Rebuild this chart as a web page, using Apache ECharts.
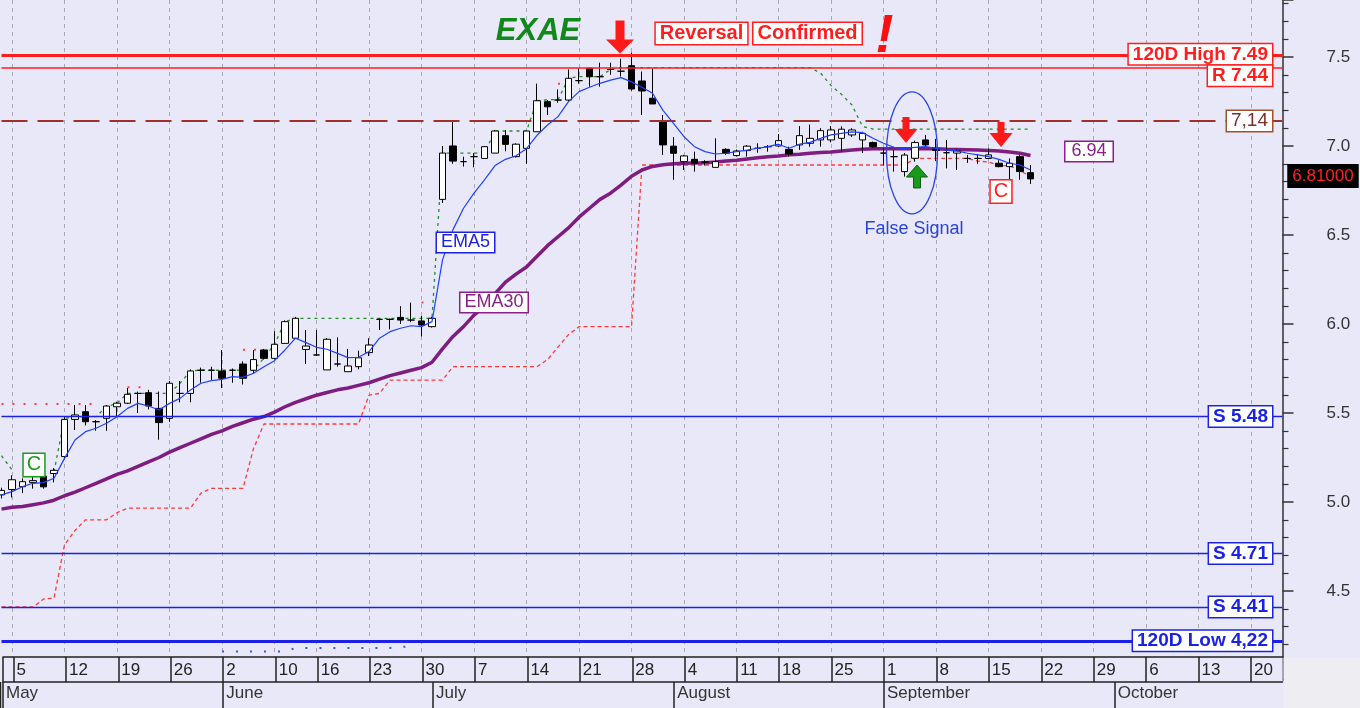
<!DOCTYPE html>
<html><head><meta charset="utf-8">
<script src="https://cdn.jsdelivr.net/npm/echarts@6/dist/echarts.min.js"></script>
<style>html,body{margin:0;padding:0;background:#E8E8F8;overflow:hidden}#c{width:1360px;height:708px}</style>
</head><body><div id="c"></div>
<script>
// ---- categories: trading days (May 2 .. Oct 23, 2025) ----
const dates = ['05-02',
 '05-05','05-06','05-07','05-08','05-09','05-12','05-13','05-14','05-15','05-16',
 '05-19','05-20','05-21','05-22','05-23','05-26','05-27','05-28','05-29','05-30',
 '06-02','06-03','06-04','06-05','06-06','06-10','06-11','06-12','06-13',
 '06-16','06-17','06-18','06-19','06-20','06-23','06-24','06-25','06-26','06-27','06-30',
 '07-01','07-02','07-03','07-04','07-07','07-08','07-09','07-10','07-11',
 '07-14','07-15','07-16','07-17','07-18','07-21','07-22','07-23','07-24','07-25',
 '07-28','07-29','07-30','07-31','08-01',
 '08-04','08-05','08-06','08-07','08-08','08-11','08-12','08-13','08-14',
 '08-18','08-19','08-20','08-21','08-22','08-25','08-26','08-27','08-28','08-29',
 '09-01','09-02','09-03','09-04','09-05','09-08','09-09','09-10','09-11','09-12',
 '09-15','09-16','09-17','09-18','09-19','09-22','09-23','09-24','09-25','09-26',
 '09-29','09-30','10-01','10-02','10-03','10-06','10-07','10-08','10-09','10-10',
 '10-13','10-14','10-15','10-16','10-17','10-20','10-21','10-22','10-23'];
const weekTicks = ['05-05','05-12','05-19','05-26','06-02','06-10','06-16','06-23','06-30',
 '07-07','07-14','07-21','07-28','08-04','08-11','08-18','08-25','09-01','09-08','09-15',
 '09-22','09-29','10-06','10-13','10-20'];
const monthStarts = ['05-02','06-02','07-01','08-01','09-01','10-01'];
const monthNames = ['May','June','July','August','September','October'];
const yTickLabels = ['4.5','5.0','5.5','6.0','6.5','7.0','7.5'];

// ---- candles (May 2 .. Sep 19) ----
const opens = [5.04,5.07,5.086,5.11,5.145,5.16,5.255,5.464,5.507,5.451,5.47,5.535,5.555,5.61,5.614,5.526,5.47,5.61,5.61,5.74,5.74,
 5.736,5.74,5.775,5.74,5.854,5.807,5.891,5.92,5.857,5.826,5.742,5.775,5.732,5.76,5.839,6.026,6.026,6.037,6.022,6.017,
 5.985,6.70,7.0,6.912,6.94,6.93,6.96,7.058,6.94,6.987,7.08,7.249,7.258,7.258,7.367,7.436,7.389,7.43,7.42,7.451,7.365,7.268,7.142,
 6.999,6.912,6.925,6.91,6.88,6.981,6.946,6.974,6.987,6.996,7.0,6.981,7.006,7.015,7.034,7.034,7.043,7.062,7.034,7.019,
 6.96,6.94,6.856,6.931,7.034,6.985,6.962,6.96,6.93,6.93,6.93,6.903,6.884,6.94,6.85];
const closes = [5.065,5.125,5.114,5.12,5.085,5.178,5.464,5.489,5.451,5.451,5.539,5.555,5.605,5.61,5.539,5.446,5.667,5.61,5.736,5.74,5.74,
 5.695,5.74,5.695,5.80,5.807,5.886,6.013,6.032,5.876,5.826,5.914,5.775,5.764,5.81,5.882,6.026,6.026,6.022,6.022,5.994,
 6.032,6.96,6.915,6.912,6.94,6.996,7.084,7.009,7.01,7.084,7.254,7.22,7.258,7.38,7.367,7.389,7.389,7.43,7.42,7.32,7.309,7.236,7.006,
 6.959,6.944,6.903,6.91,6.912,6.959,6.972,6.999,6.987,6.996,7.03,6.955,7.058,7.043,7.086,7.09,7.094,7.09,7.071,6.996,
 6.96,6.94,6.949,7.019,7.006,6.975,6.962,6.972,6.93,6.93,6.95,6.884,6.903,6.856,6.815];
const lows = [5.02,5.025,5.05,5.075,5.075,5.11,5.24,5.404,5.43,5.40,5.40,5.48,5.55,5.50,5.52,5.35,5.45,5.56,5.56,5.67,5.68,
 5.64,5.67,5.66,5.72,5.80,5.80,5.891,5.92,5.775,5.82,5.742,5.76,5.732,5.745,5.82,5.966,5.97,6.00,6.01,5.93,
 5.98,6.68,6.90,6.884,6.88,6.93,6.96,6.97,6.935,6.90,7.08,7.174,7.243,7.25,7.35,7.333,7.333,7.40,7.39,7.31,7.174,7.236,6.95,
 6.81,6.865,6.856,6.89,6.88,6.95,6.94,6.94,6.962,6.968,6.996,6.94,6.978,6.996,6.996,7.02,6.968,7.05,6.96,6.99,
 6.89,6.856,6.828,6.912,7.0,6.915,6.874,6.865,6.905,6.90,6.925,6.88,6.772,6.81,6.787];
const highs = [5.08,5.15,5.133,5.146,5.16,5.19,5.48,5.545,5.545,5.46,5.545,5.563,5.64,5.62,5.63,5.62,5.68,5.68,5.745,5.755,5.76,
 5.854,5.75,5.79,5.854,5.86,5.96,6.02,6.04,5.966,5.966,5.92,5.925,5.86,5.85,5.92,6.03,6.03,6.10,6.12,6.045,
 6.04,7.0,7.146,6.94,6.96,7.0,7.09,7.09,7.015,7.085,7.35,7.258,7.318,7.43,7.436,7.44,7.468,7.468,7.49,7.525,7.418,7.436,7.174,
 7.05,6.95,6.968,6.92,7.043,6.987,6.98,7.005,7.015,7.005,7.067,6.996,7.112,7.12,7.10,7.112,7.11,7.10,7.08,7.025,
 6.987,6.977,6.96,7.03,7.062,7.04,7.034,6.98,6.95,6.953,6.987,6.92,6.93,6.95,6.893];

// ---- indicator lines ----
const ema5 = [5.04,5.058,5.086,5.105,5.109,5.133,5.245,5.348,5.395,5.414,5.442,5.479,5.526,5.554,5.539,5.517,5.554,5.582,5.629,5.667,5.682,
 5.689,5.704,5.70,5.723,5.76,5.794,5.854,5.92,5.895,5.869,5.858,5.835,5.811,5.813,5.845,5.92,5.957,5.976,5.99,5.985,
 6.013,6.36,6.53,6.65,6.735,6.81,6.89,6.925,6.945,6.985,7.06,7.118,7.165,7.249,7.305,7.33,7.352,7.37,7.384,7.36,7.33,7.296,7.20,
 7.127,7.052,6.996,6.968,6.955,6.959,6.968,6.977,6.987,6.996,7.01,6.987,7.01,7.02,7.043,7.062,7.071,7.079,7.075,7.043,
 7.015,6.992,6.987,6.992,6.996,6.987,6.977,6.972,6.959,6.95,6.94,6.925,6.903,6.893,6.865];
const ema30 = [4.96,4.97,4.975,4.985,4.995,5.01,5.035,5.055,5.08,5.105,5.13,5.155,5.175,5.20,5.225,5.25,5.28,5.305,5.33,5.355,5.38,
 5.40,5.425,5.445,5.465,5.48,5.505,5.535,5.56,5.58,5.60,5.615,5.63,5.64,5.655,5.67,5.69,5.71,5.725,5.74,5.755,
 5.785,5.86,5.93,5.985,6.05,6.10,6.17,6.235,6.28,6.32,6.38,6.44,6.49,6.54,6.60,6.65,6.70,6.735,6.78,6.83,6.865,6.885,6.895,
 6.90,6.903,6.905,6.906,6.91,6.915,6.92,6.927,6.934,6.94,6.944,6.95,6.953,6.959,6.963,6.966,6.972,6.977,6.981,6.985,
 6.985,6.985,6.985,6.985,6.985,6.984,6.981,6.98,6.979,6.977,6.975,6.972,6.966,6.959,6.946];
const stopLow = [4.41,4.41,4.41,4.41,4.455,4.46,4.76,4.84,4.90,4.90,4.90,4.94,4.965,4.965,4.965,4.965,4.965,4.965,4.965,5.05,5.077,
 5.077,5.077,5.077,5.30,5.438,5.438,5.438,5.438,5.438,5.438,5.438,5.438,5.438,5.438,5.60,5.61,5.685,5.685,5.685,5.685,
 5.685,5.685,5.76,5.76,5.76,5.76,5.76,5.76,5.76,5.76,5.76,5.80,5.87,5.94,5.985,5.985,5.985,5.985,5.985,5.985,6.893,6.893,6.893,
 6.893,6.893,6.893,6.893,6.893,6.893,6.893,6.893,6.893,6.893,6.893,6.893,6.893,6.893,6.893,6.893,6.893,6.893,6.893,6.893,
 6.893,6.893,6.893,6.93,6.93,6.93,6.93,6.93,6.93,6.915,6.91,6.89,6.89,6.86,6.83];
const stopHigh = [5.26,5.18,null,null,null,5.17,5.47,5.48,5.48,5.48,5.535,5.555,5.61,5.61,5.61,5.61,5.61,5.667,5.736,5.74,5.74,
 5.74,5.74,5.74,5.74,5.81,5.886,6.013,6.032,6.032,6.032,6.032,6.032,6.032,6.032,6.032,6.032,6.032,6.032,6.032,6.032,
 6.032,6.96,6.96,6.96,6.96,6.96,7.084,7.084,7.084,7.084,7.254,7.26,7.26,7.38,7.39,7.39,7.39,7.43,7.44,7.44,7.44,7.44,7.44,
 7.44,7.44,7.44,7.44,7.44,7.44,7.44,7.44,7.44,7.44,7.44,7.44,7.44,7.44,7.41,7.34,7.29,7.23,7.11,7.095,
 7.095,7.095,7.095,7.095,7.095,7.095,7.095,7.095,7.095,7.095,7.095,7.095,7.095,7.095,7.095];
const resistDots = [5.55,5.55,5.55,5.55,5.55,5.55,5.55,5.55,5.55,5.55,null,null,5.645,5.645,5.645,null,null,null,null,null,null,
 null,null,5.855,5.855,5.855,null,null,null,null,null,null,null,null,null,null,null,null,null,null,6.12,
 6.12,null,null,null,null,null,null,null,null,null,null,null,7.35,7.35];
const lowDots = [null,null,null,null,null,null,null,null,null,null,null,null,null,null,null,null,null,null,null,null,null,
 4.16,4.16,4.16,4.16,4.16,4.16,4.16,4.18,4.18,4.18,4.18,4.18,4.18,4.18,4.18,4.18,4.18,4.185,4.19];

// ---- horizontal levels ----
const levelValues = [7.515, 7.44, 7.14, 5.48, 4.71, 4.41, 4.22];
const levelLabels = ['120D High 7.49', 'R 7.44', '7,14', 'S 5.48', 'S 4.71', 'S 4.41', '120D Low 4,22'];
const lastPriceLabel = '6.81000';
const ema30EndLabel = '6.94';

const FF = '"Liberation Sans", Arial, sans-serif';
const RED = '#ff1e1e', BLUE = '#1a22e8', BROWN = '#a0302a', PURPLE = '#8a1f8a';
const levelStyles = [
  {color: RED, width: 3, type: 'solid'},
  {color: RED, width: 1.5, type: 'solid'},
  {color: BROWN, width: 1.8, type: [26, 10]},
  {color: BLUE, width: 1.3, type: 'solid'},
  {color: BLUE, width: 1.3, type: 'solid'},
  {color: BLUE, width: 1.3, type: 'solid'},
  {color: BLUE, width: 3, type: 'solid'}
];
const levelBox = [
  {c: RED, b: RED, w: 'bold', dy: 0},
  {c: RED, b: RED, w: 'bold', dy: 8},
  {c: '#7a2e2e', b: '#a0522d', w: 'normal', dy: 0},
  {c: BLUE, b: BLUE, w: 'bold', dy: 0},
  {c: BLUE, b: BLUE, w: 'bold', dy: 0},
  {c: BLUE, b: BLUE, w: 'bold', dy: 0},
  {c: BLUE, b: BLUE, w: 'bold', dy: 0}
];

const weekSet = new Set(weekTicks);
const monthMap = {};
monthStarts.forEach((d, k) => monthMap[d] = monthNames[k]);
const candles = opens.map((o, k) => [o, closes[k], lows[k], highs[k]]);

const chart = echarts.init(document.getElementById('c'), null, {renderer: 'canvas'});
const option = {
  animation: false,
  backgroundColor: '#E8E8F8',
  grid: [
    {left: 1.5, right: 77.5, top: 0, bottom: 28},
    {left: 1.5, right: 77.5, top: 600, bottom: 51}
  ],
  xAxis: [
    {type: 'category', gridIndex: 0, data: dates, boundaryGap: false,
     axisLine: {show: false}, axisTick: {show: false}, axisLabel: {show: false},
     splitLine: {show: true, interval: (i, v) => weekSet.has(dates[i]),
       lineStyle: {color: '#a9a9b6', width: 1, type: [4, 4]}}},
    {type: 'category', gridIndex: 1, data: dates, boundaryGap: false, position: 'bottom', z: 60,
     axisLine: {show: true, lineStyle: {color: '#222', width: 1.5}},
     axisTick: {show: true, interval: (i) => i === 0 || weekSet.has(dates[i]), length: 25,
       lineStyle: {color: '#222', width: 1.5}},
     axisLabel: {show: true, interval: (i) => i === 0 || weekSet.has(dates[i]), align: 'left', margin: 5,
       formatter: (v) => weekSet.has(v) ? String(parseInt(v.slice(3), 10)) : '',
       fontSize: 17, fontFamily: FF, color: '#222', padding: [0, 0, 0, 3]},
     splitLine: {show: false}},
    {type: 'category', gridIndex: 1, data: dates, boundaryGap: false, position: 'bottom', offset: 25, z: 60,
     axisLine: {show: true, lineStyle: {color: '#222', width: 1.5}},
     axisTick: {show: true, interval: (i) => monthMap[dates[i]] !== undefined, length: 26,
       lineStyle: {color: '#222', width: 1.5}},
     axisLabel: {show: true, interval: (i) => monthMap[dates[i]] !== undefined, align: 'left', margin: 3,
       formatter: (v) => monthMap[v] || '', fontSize: 17, fontFamily: FF, color: '#333', padding: [0, 0, 0, 3]},
     splitLine: {show: false}}
  ],
  yAxis: [
    {type: 'value', gridIndex: 0, position: 'right', min: 4, max: 7.82, interval: 0.5,
     axisLine: {show: true, lineStyle: {color: '#333', width: 1.5}},
     axisTick: {show: true, length: 11, lineStyle: {color: '#333', width: 1.5}},
     minorTick: {show: true, splitNumber: 5, length: 6, lineStyle: {color: '#333', width: 1.2}},
     splitLine: {show: false},
     axisLabel: {margin: 44, fontSize: 17, fontFamily: FF, color: '#333', showMaxLabel: false,
       formatter: (v) => yTickLabels.includes(v.toFixed(1)) ? v.toFixed(1) : ''}},
    {type: 'value', gridIndex: 1, show: false}
  ],
  series: [
    {type: 'line', xAxisIndex: 0, yAxisIndex: 0, data: [], silent: true, z: 1,
     markLine: {symbol: ['none', 'none'], silent: true, animation: false, label: {show: false},
       data: levelValues.map((v, k) => ({yAxis: v, lineStyle: levelStyles[k]}))}},
    {type: 'line', name: 'lowDots', data: lowDots, symbol: 'none', connectNulls: false, z: 2,
     lineStyle: {color: '#3355ee', width: 2, type: [2, 12]}},
    {type: 'line', name: 'resist', data: resistDots, symbol: 'none', connectNulls: false, z: 2,
     lineStyle: {color: '#ff4040', width: 2, type: [2, 9]}},
    {type: 'line', name: 'stopLow', data: stopLow, symbol: 'none', z: 2,
     lineStyle: {color: '#ff3a3a', width: 1.3, type: [4, 3]}},
    {type: 'line', name: 'stopHigh', data: stopHigh, symbol: 'none', connectNulls: false, z: 2,
     lineStyle: {color: '#1f8f1f', width: 1.3, type: [3, 4]}},
    {type: 'line', name: 'EMA30', data: ema30, symbol: 'none', z: 3,
     lineStyle: {color: '#7e1c80', width: 3.5}},
    {type: 'candlestick', name: 'EXAE', data: candles, barWidth: 7, z: 4,
     itemStyle: {color: '#ffffff', color0: '#000000', borderColor: '#000000', borderColor0: '#000000',
       borderColorDoji: '#000000', borderWidth: 1}},
    {type: 'line', name: 'EMA5', data: ema5, symbol: 'none', z: 5,
     lineStyle: {color: '#2040ff', width: 1.2}}
  ]
};
chart.setOption(option);

function P(i, v) { return chart.convertToPixel({gridIndex: 0}, [i + 1, v]); }
function X(i) { return P(i, 6)[0]; }
function Y(v) { return P(0, v)[1]; }

function box(x, y, text, o) {
  return {type: 'text', x: x, y: y, z: 100, silent: true,
    style: {text: text, fill: o.color, fontSize: o.size, fontWeight: o.weight || 'normal',
      fontStyle: o.style || 'normal', fontFamily: FF, align: o.align || 'center', verticalAlign: 'middle',
      backgroundColor: o.bg, borderColor: o.border, borderWidth: o.bw || 0, padding: o.pad || 0}};
}
function arrow(cx, tip, tail, W, sw, hh, fill, stroke) {
  const dir = tip > tail ? 1 : -1;
  const base = tip - dir * hh;
  return {type: 'polygon', z: 100, silent: true,
    shape: {points: [[cx - sw / 2, tail], [cx + sw / 2, tail], [cx + sw / 2, base], [cx + W / 2, base],
      [cx, tip], [cx - W / 2, base], [cx - sw / 2, base]]},
    style: {fill: fill, stroke: stroke || fill, lineWidth: stroke ? 1 : 0}};
}

const g = [];
const axisX = X(121);
g.push({type: 'rect', z: 50, silent: true, shape: {x: 0, y: 657, width: axisX, height: 51}, style: {fill: '#E8E8F8'}});
g.push({type: 'rect', z: 50, silent: true, shape: {x: axisX + 1, y: 658, width: 1360 - axisX, height: 50}, style: {fill: '#EEEEF2'}});
g.push({type: 'line', z: 61, silent: true, shape: {x1: 0.5, y1: 682, x2: 0.5, y2: 708}, style: {stroke: '#222', lineWidth: 1.5}});

levelValues.forEach((v, k) => {
  const s = levelBox[k];
  g.push(box(1272, Y(v) + s.dy, levelLabels[k], {color: s.c, size: 19, weight: s.w, align: 'right',
    bg: '#ffffff', border: s.b, bw: 1.5, pad: [1, 4, 0, 4]}));
});

g.push(box(X(50) + 1, Y(7.646), 'EXAE', {color: '#11881a', size: 31, weight: 'bold', style: 'italic'}));
g.push(arrow(X(58) - 1, Y(7.52), Y(7.705), 28, 9, 14, '#ff1a1a'));
g.push(box(X(65) + 7, Y(7.632), 'Reversal', {color: RED, size: 20, weight: 'bold', bg: '#fff', border: RED, bw: 1.5, pad: [1, 4, 0, 4]}));
g.push(box(X(75) + 8, Y(7.632), 'Confirmed', {color: RED, size: 20, weight: 'bold', bg: '#fff', border: RED, bw: 1.5, pad: [1, 4, 0, 4]}));
g.push(box(X(83) + 1, Y(7.61), '!', {color: '#ff1010', size: 54, weight: 'bold', style: 'italic'}));

const ec = P(85, 6.961);
g.push({type: 'ellipse', z: 100, silent: true, shape: {cx: ec[0] + 7.5, cy: ec[1], rx: 25.5, ry: 61},
  style: {fill: 'none', stroke: '#2546e0', lineWidth: 1.3}});
g.push(arrow(X(85) + 1.5, Y(7.017), Y(7.163), 23, 7, 14, '#ff1a1a'));
g.push(arrow(X(86) + 2, Y(6.893), Y(6.764), 21, 7, 12, '#1a9a1a', '#0d5e0d'));
g.push(arrow(X(94) + 2, Y(6.994), Y(7.135), 23, 7, 14, '#ff1a1a'));
g.push(box(X(85) + 9.5, Y(6.534), 'False Signal', {color: '#2a44d8', size: 18}));
g.push(box(X(94) + 2, Y(6.744), 'C', {color: RED, size: 20, bg: '#fff', border: RED, bw: 1.5, pad: [2, 3, 0, 3]}));
g.push(box(X(2) + 1, Y(5.208), 'C', {color: '#1a9a1a', size: 20, bg: '#fff', border: '#1a9a1a', bw: 1.5, pad: [2, 3, 0, 3]}));

g.push(box(X(43) + 2, Y(6.458), 'EMA5', {color: BLUE, size: 18, bg: '#fff', border: BLUE, bw: 1.5, pad: [1, 4, 0, 4]}));
g.push(box(X(46) - 1, Y(6.121), 'EMA30', {color: PURPLE, size: 18, bg: '#fff', border: PURPLE, bw: 1.5, pad: [1, 4, 0, 4]}));
g.push(box(X(103) - 4.5, Y(6.969), ema30EndLabel, {color: PURPLE, size: 18, bg: '#fff', border: PURPLE, bw: 1.5, pad: [1, 6, 0, 6]}));
g.push(box(1323, Y(closes[closes.length - 1]) - 3, lastPriceLabel, {color: '#ff2020', size: 17, bg: '#000', border: '#000', bw: 1, pad: [3, 4, 2, 4]}));

chart.setOption({graphic: g});
</script>
</body></html>
